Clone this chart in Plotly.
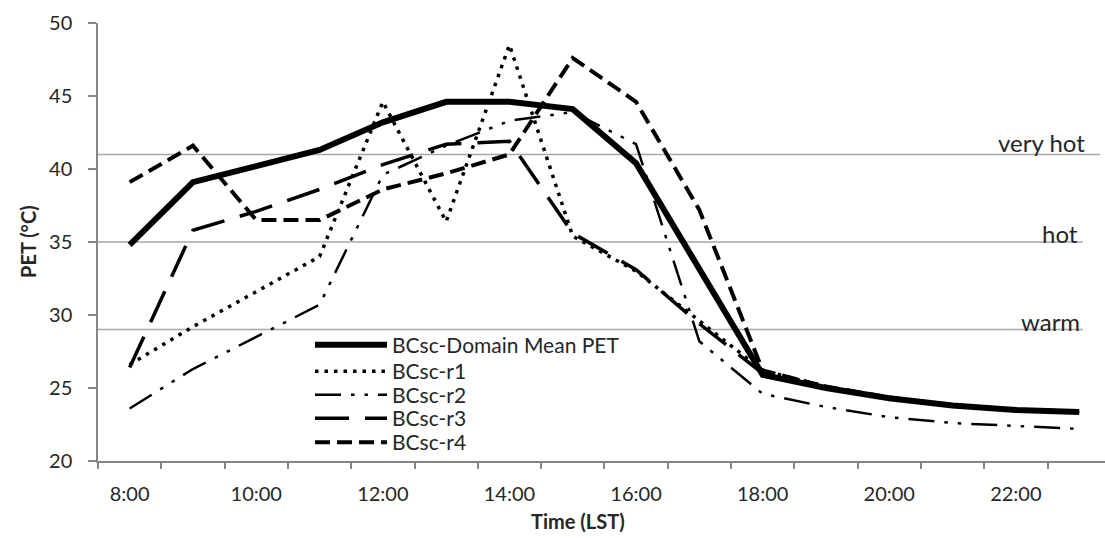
import plotly.graph_objects as go

# ---- data ----
hours = list(range(8, 24))
tick_hours = [8, 10, 12, 14, 16, 18, 20, 22]
tick_labels = ["8:00", "10:00", "12:00", "14:00", "16:00", "18:00", "20:00", "22:00"]

mean_pet = [34.8, 39.1, 40.2, 41.3, 43.2, 44.6, 44.6, 44.1, 40.4, 33.1, 25.9, 25.0, 24.3, 23.8, 23.5, 23.35]
r1 = [26.6, 29.2, 31.6, 34.0, 44.6, 36.4, 48.5, 35.4, 33.0, 29.6, 26.2, 25.1, 24.3, 23.8, 23.5, 23.3]
r2 = [23.6, 26.3, 28.5, 30.7, 39.6, 41.6, 43.3, 43.9, 41.7, 28.2, 24.6, 23.7, 23.0, 22.6, 22.4, 22.2]
r3 = [26.4, 35.8, 37.1, 38.6, 40.3, 41.7, 41.9, 35.6, 33.1, 29.4, 26.0, 25.0, 24.3, 23.8, 23.5, 23.3]
r4 = [39.1, 41.6, 36.5, 36.5, 38.6, 39.7, 41.0, 47.6, 44.6, 37.2, 26.2, 25.1, 24.35, 23.8, 23.5, 23.4]

thresholds = [41, 35, 29]
threshold_labels = ["very hot", "hot", "warm"]
threshold_ends = [23.33, 23.06, 23.06]

FONT = "Lato"
TXT = "#262626"
AX = "#868686"

series = [
    ("BCsc-Domain Mean PET", mean_pet, 6, "solid", "legend"),
    ("BCsc-r1", r1, 3.5, "3.5px,6px", "legend2"),
    ("BCsc-r2", r2, 2.5, "26px,10px,3.5px,10px,3.5px,10px", "legend3"),
    ("BCsc-r3", r3, 3.5, "34px,16px", "legend4"),
    ("BCsc-r4", r4, 4, "15px,7px", "legend5"),
]

fig = go.Figure()
for name, vals, w, dash, lg in series[1:] + series[:1]:
    fig.add_trace(go.Scatter(
        x=hours, y=vals, mode="lines", name=name,
        line=dict(color="black", width=w, dash=dash),
        legend=lg,
    ))

# threshold lines
for t, xe in zip(thresholds, threshold_ends):
    fig.add_shape(type="line", xref="x", yref="y", x0=7.5, x1=xe, y0=t, y1=t,
                  line=dict(color="#A6A6A6", width=1.5), layer="below")

label_pos = [(23.12, 41.8), (23.01, 35.6), (23.05, 29.55)]
for lab, (lx, ly) in zip(threshold_labels, label_pos):
    fig.add_annotation(x=lx, y=ly, xref="x", yref="y", text=lab, showarrow=False,
                       xanchor="right", yanchor="middle",
                       font=dict(family=FONT, size=24, color=TXT))

W, H = 1105, 538
ML, MT, MB = 98, 23, 77
pxu = 63.3

fig.update_layout(
    width=W, height=H,
    margin=dict(l=ML, r=0, t=MT, b=MB),
    plot_bgcolor="white", paper_bgcolor="white",
    font=dict(family=FONT, size=20, color=TXT),
    xaxis=dict(
        range=[7.5, 7.5 + (W - ML) / pxu],
        tickmode="array", tickvals=tick_hours, ticktext=tick_labels,
        ticks="", showgrid=False, zeroline=False,
        showline=True, linecolor=AX, linewidth=1.5,
        tickfont=dict(family=FONT, size=20, color=TXT),
        ticklabelstandoff=14,
        minor=dict(ticks="outside", tick0=7.5, dtick=1, ticklen=6, tickcolor=AX, tickwidth=1.5, showgrid=False),
    ),
    yaxis=dict(
        range=[20, 50], dtick=5, tick0=20,
        ticks="outside", ticklen=8, tickcolor=AX, tickwidth=1.5,
        showgrid=False, zeroline=False,
        showline=True, linecolor=AX, linewidth=1.5,
        tickfont=dict(family=FONT, size=20, color=TXT),
        ticklabelstandoff=12,
    ),
    showlegend=True,
)

# legends (one per series, positioned to match the reference rows)
legend_rows = [345, 371.5, 395, 418.5, 442.5]
plot_h = H - MT - MB
for i, (lg, row) in enumerate(zip(["legend", "legend2", "legend3", "legend4", "legend5"], legend_rows)):
    fig.update_layout({lg: dict(
        x=(310 - ML) / (W - ML), xanchor="left",
        y=(H - MB - row) / plot_h, yanchor="middle",
        bgcolor="rgba(0,0,0,0)", borderwidth=0,
        font=dict(family=FONT, size=21, color=TXT),
        itemwidth=72, tracegroupgap=0,
    )})

# axis titles
fig.add_annotation(x=(578 - ML) / (W - ML), y=(H - MB - 521) / plot_h, xref="paper", yref="paper",
                   text="<b>Time (LST)</b>", showarrow=False, xanchor="center", yanchor="middle",
                   font=dict(family=FONT, size=20, color=TXT))
fig.add_annotation(x=(28 - ML) / (W - ML), y=(H - MB - 242) / plot_h, xref="paper", yref="paper",
                   text="<b>PET (°C)</b>", showarrow=False, textangle=-90, xanchor="center", yanchor="middle",
                   font=dict(family=FONT, size=20, color=TXT))

fig.write_html("out.html")
